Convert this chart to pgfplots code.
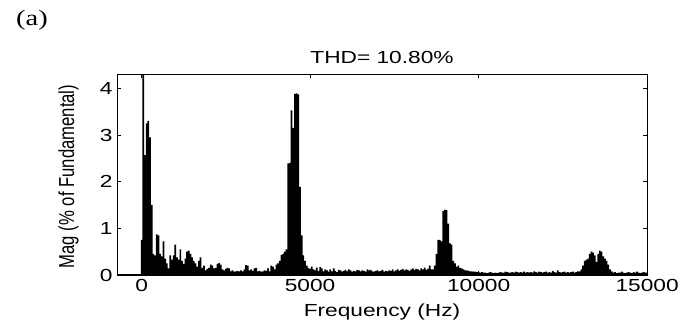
\documentclass[border=0pt]{standalone}
\usepackage{graphicx}
\usepackage{fontspec}
\setmainfont{Liberation Sans}[FakeStretch=1.3]
\newfontfamily\labelfont{Liberation Sans}
\newfontfamily\panelfont{Liberation Serif}[FakeStretch=1.3]
\usepackage{pgfplots}
\pgfplotsset{compat=1.18}

\begin{document}
\begin{tikzpicture}[x=0.75pt,y=0.75pt]
\useasboundingbox (0,0) rectangle (696,331);

\begin{axis}[
  at={(88pt,42pt)}, anchor=south west,
  scale only axis,
  width=397.3pt, height=150.5pt,
  xmin=-720, xmax=15000,
  ymin=0, ymax=4.3,
  xtick={0,5000,10000,15000},
  ytick={0,1,2,3,4},
  scaled x ticks=false,
  tick align=inside,
  major tick length=3pt,
  tick style={black, line width=0.6pt},
  axis line style={black, line width=0.8pt},
  /pgf/number format/.cd, 1000 sep={}, assume math mode=true,
  /pgfplots/.cd,
  tick label style={font=\fontsize{13.1}{15}\selectfont},
  clip=true,
]
% single-sided spectrum, 50 Hz bins
\addplot[ybar, bar width=50, bar shift=0pt, fill=black, draw=none] coordinates {
(0,0.75) (50,100) (100,2.57) (150,3.25) (200,3.30) (250,2.95) (300,1.50) (350,0.45) (400,0.42) (450,0.87)
(500,0.85) (550,0.45) (600,0.40) (650,0.72) (700,0.35) (750,0.25) (800,0.14) (850,0.42) (900,0.33) (950,0.42)
(1000,0.65) (1050,0.38) (1100,0.33) (1150,0.55) (1200,0.30) (1250,0.24) (1300,0.35) (1350,0.50) (1400,0.52) (1450,0.45)
(1500,0.38) (1550,0.30) (1600,0.25) (1650,0.18) (1700,0.30) (1750,0.38) (1800,0.15) (1850,0.20) (1900,0.10) (1950,0.13)
(2000,0.15) (2050,0.22) (2100,0.20) (2150,0.14) (2200,0.15) (2250,0.24) (2300,0.26) (2350,0.22) (2400,0.12) (2450,0.10)
(2500,0.13) (2550,0.15) (2600,0.14) (2650,0.08) (2700,0.10) (2750,0.07) (2800,0.08) (2850,0.09) (2900,0.08) (2950,0.10)
(3000,0.08) (3050,0.12) (3100,0.21) (3150,0.20) (3200,0.10) (3250,0.12) (3300,0.09) (3350,0.14) (3400,0.15) (3450,0.08)
(3500,0.09) (3550,0.07) (3600,0.08) (3650,0.10) (3700,0.09) (3750,0.14) (3800,0.08) (3850,0.20) (3900,0.18) (3950,0.12)
(4000,0.22) (4050,0.25) (4100,0.30) (4150,0.43) (4200,0.45) (4250,0.50) (4300,0.55) (4350,2.39) (4400,2.40) (4450,3.53)
(4500,3.15) (4550,3.88) (4600,3.89) (4650,3.87) (4700,1.89) (4750,0.85) (4800,0.42) (4850,0.30) (4900,0.20) (4950,0.15)
(5000,0.13) (5050,0.18) (5100,0.12) (5150,0.10) (5200,0.16) (5250,0.09) (5300,0.17) (5350,0.14) (5400,0.08) (5450,0.12)
(5500,0.10) (5550,0.07) (5600,0.12) (5650,0.08) (5700,0.14) (5750,0.09) (5800,0.06) (5850,0.11) (5900,0.10) (5950,0.07)
(6000,0.09) (6050,0.11) (6100,0.08) (6150,0.12) (6200,0.10) (6250,0.07) (6300,0.09) (6350,0.08) (6400,0.11) (6450,0.10)
(6500,0.08) (6550,0.10) (6600,0.09) (6650,0.07) (6700,0.12) (6750,0.10) (6800,0.11) (6850,0.08) (6900,0.07) (6950,0.09)
(7000,0.10) (7050,0.08) (7100,0.09) (7150,0.11) (7200,0.07) (7250,0.09) (7300,0.08) (7350,0.10) (7400,0.09) (7450,0.12)
(7500,0.08) (7550,0.10) (7600,0.12) (7650,0.09) (7700,0.11) (7750,0.13) (7800,0.10) (7850,0.12) (7900,0.11) (7950,0.09)
(8000,0.12) (8050,0.14) (8100,0.11) (8150,0.13) (8200,0.12) (8250,0.10) (8300,0.14) (8350,0.12) (8400,0.16) (8450,0.11)
(8500,0.13) (8550,0.20) (8600,0.12) (8650,0.12) (8700,0.20) (8750,0.45) (8800,0.75) (8850,0.75) (8900,0.72) (8950,1.37)
(9000,1.40) (9050,1.39) (9100,1.10) (9150,0.68) (9200,0.65) (9250,0.30) (9300,0.25) (9350,0.18) (9400,0.20) (9450,0.15)
(9500,0.14) (9550,0.12) (9600,0.10) (9650,0.10) (9700,0.09) (9750,0.08) (9800,0.08) (9850,0.07) (9900,0.07) (9950,0.06)
(10000,0.06) (10050,0.05) (10100,0.06) (10150,0.05) (10200,0.05) (10250,0.04) (10300,0.05) (10350,0.06) (10400,0.05) (10450,0.04)
(10500,0.05) (10550,0.04) (10600,0.05) (10650,0.06) (10700,0.05) (10750,0.05) (10800,0.07) (10850,0.06) (10900,0.05) (10950,0.05)
(11000,0.06) (11050,0.05) (11100,0.07) (11150,0.06) (11200,0.05) (11250,0.06) (11300,0.05) (11350,0.07) (11400,0.05) (11450,0.06)
(11500,0.05) (11550,0.06) (11600,0.05) (11650,0.08) (11700,0.06) (11750,0.05) (11800,0.07) (11850,0.06) (11900,0.05) (11950,0.06)
(12000,0.07) (12050,0.05) (12100,0.06) (12150,0.05) (12200,0.09) (12250,0.06) (12300,0.05) (12350,0.10) (12400,0.06) (12450,0.05)
(12500,0.06) (12550,0.07) (12600,0.05) (12650,0.06) (12700,0.05) (12750,0.06) (12800,0.07) (12850,0.05) (12900,0.06) (12950,0.08)
(13000,0.08) (13050,0.12) (13100,0.20) (13150,0.30) (13200,0.33) (13250,0.35) (13300,0.45) (13350,0.50) (13400,0.48) (13450,0.42)
(13500,0.28) (13550,0.45) (13600,0.52) (13650,0.50) (13700,0.40) (13750,0.35) (13800,0.30) (13850,0.22) (13900,0.12) (13950,0.08)
(14000,0.05) (14050,0.06) (14100,0.04) (14150,0.05) (14200,0.05) (14250,0.07) (14300,0.05) (14350,0.04) (14400,0.05) (14450,0.06)
(14500,0.05) (14550,0.04) (14600,0.06) (14650,0.05) (14700,0.07) (14750,0.05) (14800,0.04) (14850,0.05) (14900,0.06) (14950,0.05)
(15000,0.05)
};
\end{axis}

% titles and labels
\node[anchor=base, font=\fontsize{13.1}{15}\selectfont] at (382,267) {THD= 10.80\%};
\node[font=\fontsize{13.1}{15}\selectfont] at (382,19) {Frequency (Hz)};
\node[rotate=90, font=\labelfont\fontsize{12.5}{15}\selectfont] at (68.5,154.5) {\scalebox{1}[1.3]{Mag (\% of Fundamental)}};
\node[font=\panelfont\fontsize{16.5}{20}\selectfont] at (32,311) {(a)};
\end{tikzpicture}
\end{document}
